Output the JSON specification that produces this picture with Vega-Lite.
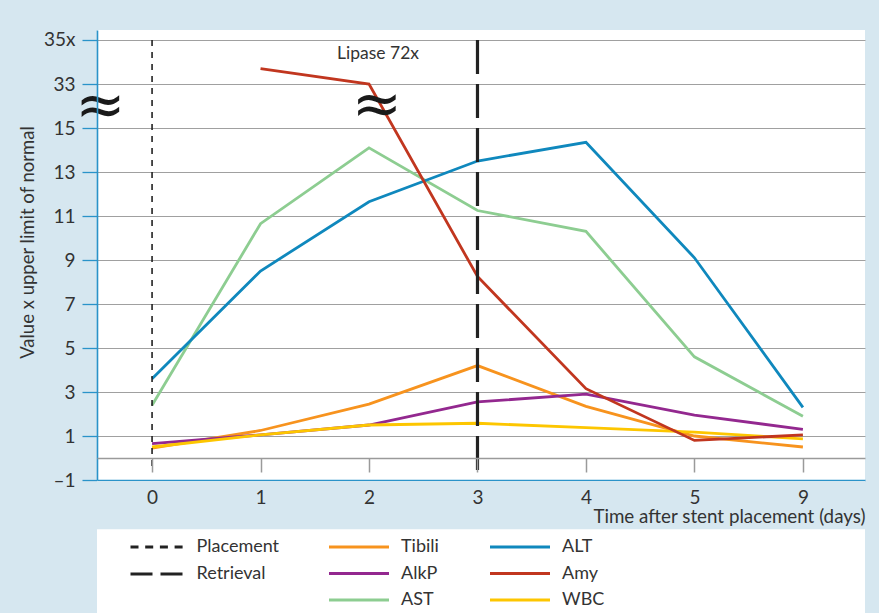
{
  "$schema": "https://vega.github.io/schema/vega-lite/v6.json",
  "background": "#d6e7f0",
  "autosize": {"type": "none"},
  "padding": {"left": 97, "top": 30, "right": 14, "bottom": 0},
  "width": 768,
  "height": 583,
  "layer": [
    {
      "data": {"values": [{}]},
      "mark": {"type": "rect", "color": "#d6e7f0"},
      "encoding": {
        "y": {"datum": -1.04, "type": "quantitative"},
        "y2": {"datum": -3.24}
      }
    },
    {
      "data": {"values": [
        {"test": "AST", "day": "0", "value": 2.4},
        {"test": "AST", "day": "1", "value": 10.65},
        {"test": "AST", "day": "2", "value": 14.1},
        {"test": "AST", "day": "3", "value": 11.25},
        {"test": "AST", "day": "4", "value": 10.3},
        {"test": "AST", "day": "5", "value": 4.6},
        {"test": "AST", "day": "9", "value": 1.9},
        {"test": "ALT", "day": "0", "value": 3.6},
        {"test": "ALT", "day": "1", "value": 8.5},
        {"test": "ALT", "day": "2", "value": 11.65},
        {"test": "ALT", "day": "3", "value": 13.5},
        {"test": "ALT", "day": "4", "value": 14.35},
        {"test": "ALT", "day": "5", "value": 9.1},
        {"test": "ALT", "day": "9", "value": 2.3},
        {"test": "Tibili", "day": "0", "value": 0.45},
        {"test": "Tibili", "day": "1", "value": 1.25},
        {"test": "Tibili", "day": "2", "value": 2.45},
        {"test": "Tibili", "day": "3", "value": 4.2},
        {"test": "Tibili", "day": "4", "value": 2.35},
        {"test": "Tibili", "day": "5", "value": 1.0},
        {"test": "Tibili", "day": "9", "value": 0.5},
        {"test": "AlkP", "day": "0", "value": 0.65},
        {"test": "AlkP", "day": "1", "value": 1.05},
        {"test": "AlkP", "day": "2", "value": 1.5},
        {"test": "AlkP", "day": "3", "value": 2.55},
        {"test": "AlkP", "day": "4", "value": 2.9},
        {"test": "AlkP", "day": "5", "value": 1.95},
        {"test": "AlkP", "day": "9", "value": 1.3},
        {"test": "WBC", "day": "0", "value": 0.5},
        {"test": "WBC", "day": "1", "value": 1.05},
        {"test": "WBC", "day": "2", "value": 1.5},
        {"test": "WBC", "day": "3", "value": 1.58},
        {"test": "WBC", "day": "4", "value": 1.38},
        {"test": "WBC", "day": "5", "value": 1.18},
        {"test": "WBC", "day": "9", "value": 0.87},
        {"test": "Amy", "day": "1", "value": 33.7},
        {"test": "Amy", "day": "2", "value": 33.0},
        {"test": "Amy", "day": "3", "value": 8.25},
        {"test": "Amy", "day": "4", "value": 3.15},
        {"test": "Amy", "day": "5", "value": 0.8},
        {"test": "Amy", "day": "9", "value": 1.05}
      ]},
      "mark": {"type": "line", "strokeWidth": 2.8},
      "encoding": {
        "x": {
          "field": "day", "type": "ordinal",
          "scale": {"type": "point", "domain": ["0", "1", "2", "3", "4", "5", "9"], "padding": 0.54, "align": 0.47},
          "axis": {
            "orient": "bottom", "offset": -155, "zindex": 1,
            "title": "Time after stent placement (days)",
            "labelAngle": 0, "grid": false,
            "domainColor": "#9a9a9a", "domainWidth": 1.3,
            "tickColor": "#9a9a9a", "tickSize": 14, "tickWidth": 1.5,
            "labelPadding": 16, "labelFontSize": 19, "titleFontSize": 18.8,
            "titleAlign": "right", "titleAnchor": "end", "titleX": 768, "titleY": 64, "titleBaseline": "alphabetic"
          }
        },
        "y": {
          "field": "value", "type": "quantitative",
          "scale": {"type": "linear", "domain": [-1, 15, 33, 35.45], "range": [450, 98, 54, 0], "zero": false, "nice": false},
          "axis": {
            "title": "Value x upper limit of normal",
            "values": [-1, 1, 3, 5, 7, 9, 11, 13, 15, 24, 33, 35],
            "labelExpr": "datum.value == 35 ? '35x' : datum.value == 24 ? '≈' : datum.value == -1 ? '–1' : datum.label",
            "grid": true,
            "gridColor": {"condition": {"test": "datum.value == -1", "value": "#2a93c9"}, "value": "#a0a0a0"},
            "gridWidth": {"condition": {"test": "datum.value == -1", "value": 1.6}, "value": 1.2},
            "gridOpacity": {"condition": {"test": "datum.value == 24", "value": 0}, "value": 1},
            "tickOpacity": {"condition": {"test": "datum.value == 24", "value": 0}, "value": 1},
            "tickColor": "#2a93c9", "tickSize": 15, "tickWidth": 1.3,
            "domainColor": "#2a93c9", "domainWidth": 1.6,
            "labelFont": {"condition": {"test": "datum.value == 24", "value": "DejaVu Sans"}, "value": "Lato"},
            "labelFontSize": {"condition": {"test": "datum.value == 24", "value": 60}, "value": 19},
            "labelAlign": {"condition": {"test": "datum.value == 24", "value": "center"}, "value": "right"},
            "labelPadding": {"condition": {"test": "datum.value == 24", "value": -18}, "value": 7},
            "labelColor": {"condition": {"test": "datum.value == 24", "value": "#1a1a1a"}, "value": "#333333"},
            "labelBaseline": "middle",
            "labelOverlap": false, "labelFlush": false, "labelBound": false,
            "titleFontSize": 18.5,
            "titleX": -64, "titleY": 212, "titleAlign": "center", "titleBaseline": "alphabetic", "titleAngle": 270
          }
        },
        "color": {
          "field": "test", "type": "nominal",
          "scale": {
            "domain": ["Tibili", "AlkP", "AST", "ALT", "Amy", "WBC"],
            "range": ["#f7931e", "#93288f", "#8dcd91", "#0f88bd", "#c1361f", "#fdc600"]
          },
          "legend": {
            "title": null, "orient": "none", "legendX": 245, "legendY": 500,
            "columns": 2, "symbolType": "M-2,0H2", "symbolSize": 900, "columnPadding": 44, "rowPadding": 0.5,
            "labelOffset": 25, "padding": 0
          }
        }
      }
    },
    {
      "data": {"values": [
        {"day": "0", "marker": "Placement"},
        {"day": "3", "marker": "Retrieval"}
      ]},
      "mark": {"type": "rule"},
      "encoding": {
        "x": {"field": "day", "type": "ordinal"},
        "y": {"datum": 35, "type": "quantitative"},
        "y2": {"datum": -0.55},
        "color": {"value": "#222222"},
        "strokeWidth": {"condition": {"test": "datum.marker == 'Retrieval'", "value": 3.2}, "value": 1.6},
        "strokeDash": {"condition": {"test": "datum.marker == 'Retrieval'", "value": [34, 10]}, "value": [6, 6]}
      }
    },
    {
      "data": {"values": [
        {"day": "0", "marker": "Placement"},
        {"day": "3", "marker": "Retrieval"}
      ]},
      "transform": [{"filter": "false"}],
      "mark": {"type": "rule", "color": "#222222"},
      "encoding": {
        "x": {"field": "day", "type": "ordinal"},
        "strokeDash": {
          "field": "marker", "type": "nominal",
          "scale": {"domain": ["Placement", "Retrieval"], "range": [[8, 6.7], [22, 8]]},
          "legend": {
            "title": null, "orient": "none", "legendX": 45, "legendY": 501.5,
            "symbolType": "M-2,0H2", "symbolSize": 729, "rowPadding": 2, "labelOffset": 23.5, "padding": 0,
            "symbolStrokeColor": "#222222"
          }
        }
      }
    },
    {
      "data": {"values": [{"day": "2", "value": 34.36, "note": "Lipase 72x"}]},
      "mark": {"type": "text", "dx": 9, "font": "Lato", "fontSize": 17.5, "color": "#333333", "align": "center", "baseline": "middle"},
      "encoding": {
        "x": {"field": "day", "type": "ordinal"},
        "y": {"field": "value", "type": "quantitative"},
        "text": {"field": "note"}
      }
    },
    {
      "data": {"values": [{"day": "2", "value": 24, "note": "≈"}]},
      "mark": {"type": "text", "dx": 8, "font": "DejaVu Sans", "fontSize": 60, "color": "#1a1a1a", "align": "center", "baseline": "middle"},
      "encoding": {
        "x": {"field": "day", "type": "ordinal"},
        "y": {"field": "value", "type": "quantitative"},
        "text": {"field": "note"}
      }
    }
  ],
  "config": {
    "view": {"fill": "white", "stroke": null},
    "font": "Lato",
    "axis": {"labelFont": "Lato", "labelFontSize": 18, "labelColor": "#333333", "titleFont": "Lato", "titleFontSize": 18, "titleFontWeight": "normal", "titleColor": "#333333"},
    "legend": {"labelFont": "Lato", "labelFontSize": 18, "labelColor": "#333333", "symbolStrokeWidth": 3.2}
  }
}
